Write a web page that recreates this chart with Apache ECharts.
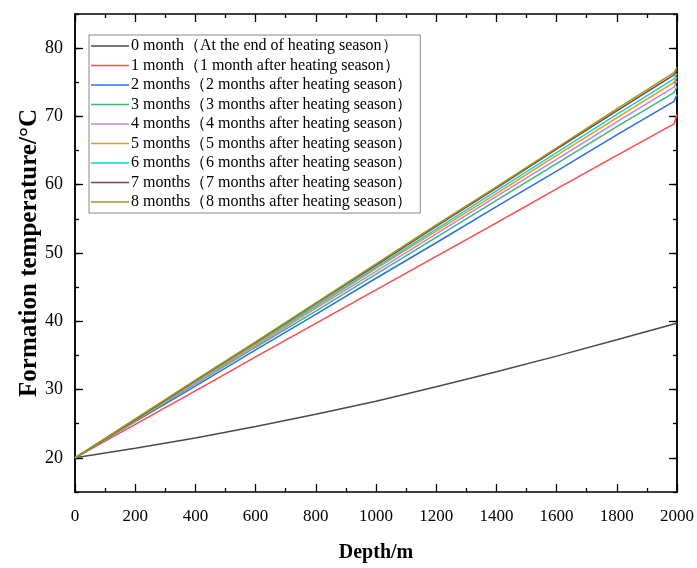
<!DOCTYPE html>
<html>
<head>
<meta charset="utf-8">
<title>Formation temperature vs depth</title>
<script src="https://cdn.jsdelivr.net/npm/echarts@6/dist/echarts.min.js"></script>
<style>
  html, body { margin: 0; padding: 0; background: #fff; }
  #chart { width: 697px; height: 568px; }
</style>
</head>
<body>
<div id="chart"></div>
<script>
// Depth sampling points (m)
const depths = [0, 200, 400, 600, 800, 1000, 1200, 1400, 1600, 1800, 1990, 2000];

// Formation temperature (°C) at each depth, per recovery time
const month0 = [20, 21.4, 22.9, 24.6, 26.4, 28.3, 30.4, 32.6, 34.9, 37.3, 39.6, 39.7];
const month1 = [20, 24.9, 29.8, 34.8, 39.7, 44.6, 49.5, 54.4, 59.4, 64.3, 68.9, 70.3];
const month2 = [20, 25.3, 30.5, 35.8, 41.0, 46.3, 51.5, 56.8, 62.0, 67.3, 72.2, 73.2];
const month3 = [20, 25.4, 30.8, 36.2, 41.5, 46.9, 52.3, 57.7, 63.1, 68.5, 73.5, 74.4];
const month4 = [20, 25.5, 30.9, 36.4, 41.9, 47.3, 52.8, 58.3, 63.7, 69.2, 74.3, 75.2];
const month5 = [20, 25.5, 31.1, 36.6, 42.1, 47.7, 53.2, 58.7, 64.3, 69.8, 75.0, 75.8];
const month6 = [20, 25.6, 31.2, 36.8, 42.3, 47.9, 53.5, 59.1, 64.7, 70.3, 75.5, 76.3];
const month7 = [20, 25.6, 31.3, 36.9, 42.6, 48.2, 53.9, 59.5, 65.2, 70.8, 76.1, 76.8];
const month8 = [20, 25.7, 31.4, 37.0, 42.7, 48.4, 54.1, 59.7, 65.4, 71.1, 76.4, 77.2];

const seriesNames = [
  '0 month（At the end of heating season）',
  '1 month（1 month after heating season）',
  '2 months（2 months after heating season）',
  '3 months（3 months after heating season）',
  '4 months（4 months after heating season）',
  '5 months（5 months after heating season）',
  '6 months（6 months after heating season）',
  '7 months（7 months after heating season）',
  '8 months（8 months after heating season）'
];
const seriesValues = [month0, month1, month2, month3, month4, month5, month6, month7, month8];
const seriesColors = ['#4a4a4a', '#ff4848', '#2a6fe6', '#3cb878', '#c47ff0', '#e0a010', '#10d0dc', '#8c3c3c', '#9a9a1c'];

// Axis ticks
const yMajorTicks = [20, 30, 40, 50, 60, 70, 80];

const FONT = '"Liberation Serif", "Times New Roman", serif';
const AXIS_LINE = { show: true, lineStyle: { color: '#000', width: 1.5 } };

const chart = echarts.init(document.getElementById('chart'), null, { renderer: 'canvas' });

function xAxisDef(pos, withLabels) {
  return {
    type: 'value', position: pos, min: 0, max: 2000, interval: 200,
    axisLine: AXIS_LINE,
    axisTick: { show: true, inside: true, length: 8, lineStyle: { color: '#000', width: 1.3 } },
    minorTick: { show: true, splitNumber: 2, length: 4, lineStyle: { color: '#000', width: 1.3 } },
    splitLine: { show: false },
    axisLabel: withLabels
      ? { show: true, margin: 16, fontFamily: FONT, fontSize: 17, color: '#000',
          formatter: v => String(v) }
      : { show: false },
    name: withLabels ? 'Depth/m' : '',
    nameLocation: 'middle',
    nameGap: 51,
    nameMoveOverlap: false,
    nameTextStyle: { fontFamily: FONT, fontSize: 20, fontWeight: 'bold', color: '#000' }
  };
}

function yMinorDef(pos) {
  return {
    type: 'value', position: pos, min: 15, max: 85, interval: 5,
    axisLine: AXIS_LINE,
    axisTick: { show: true, inside: true, length: 4, lineStyle: { color: '#000', width: 1.3 } },
    splitLine: { show: false },
    axisLabel: { show: false }
  };
}

function yMajorDef(pos, withLabels) {
  return {
    type: 'value', position: pos, min: 15, max: 85, interval: 5,
    axisLine: AXIS_LINE,
    axisTick: { show: true, inside: true, length: 8, customValues: yMajorTicks,
      lineStyle: { color: '#000', width: 1.3 } },
    splitLine: { show: false },
    axisLabel: withLabels
      ? { show: true, margin: 12, customValues: yMajorTicks, fontFamily: FONT, fontSize: 18, color: '#000' }
      : { show: false },
    name: withLabels ? 'Formation temperature/°C' : '',
    nameLocation: 'middle',
    nameGap: 33,
    nameMoveOverlap: false,
    nameTextStyle: { fontFamily: FONT, fontSize: 25, fontWeight: 'bold', color: '#000' }
  };
}

const series = seriesNames.map((name, i) => ({
  name: name,
  type: 'line',
  xAxisIndex: 0,
  yAxisIndex: 0,
  showSymbol: false,
  symbol: 'none',
  lineStyle: { width: 1.5, color: seriesColors[i] },
  itemStyle: { color: seriesColors[i] },
  data: depths.map((d, k) => [d, seriesValues[i][k]])
}));

chart.setOption({
  animation: false,
  backgroundColor: '#fff',
  grid: { left: 75, right: 20, top: 14, bottom: 71, containLabel: false },
  xAxis: [xAxisDef('bottom', true), xAxisDef('top', false)],
  yAxis: [yMajorDef('left', true), yMinorDef('left'), yMajorDef('right', false), yMinorDef('right')],
  legend: {
    orient: 'vertical',
    left: 89,
    top: 35,
    icon: 'rect',
    itemWidth: 38,
    itemHeight: 1.5,
    itemGap: 3.5,
    padding: [3, 8, 3, 2],
    backgroundColor: '#fff',
    borderColor: '#888',
    borderWidth: 1,
    textStyle: { fontFamily: FONT, fontSize: 16, color: '#000', lineHeight: 16, padding: [0, 0, 0, -3] },
    data: seriesNames
  },
  series: series
});
</script>
</body>
</html>
